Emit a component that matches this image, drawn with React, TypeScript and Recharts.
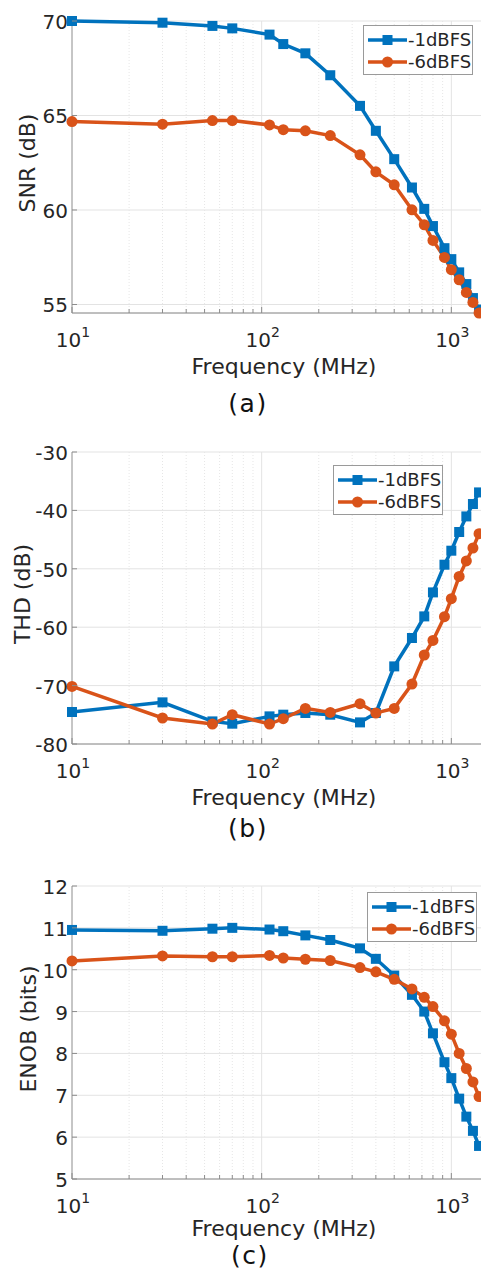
import React from "react";
import { LineChart, Line, XAxis, YAxis, CartesianGrid, ReferenceLine, Legend } from "recharts";

// sampled input frequencies (MHz), shared by all three panels
const freqMHz = [10, 30, 55, 70, 110, 130, 170, 230, 330, 400, 500, 620, 720, 800, 920, 1000, 1100, 1200, 1300, 1400];

const seriesNames = ["-1dBFS", "-6dBFS"];

// (a) SNR in dB
const snr1dB = [70.0, 69.91, 69.74, 69.61, 69.28, 68.78, 68.29, 67.13, 65.51, 64.19, 62.69, 61.19, 60.06, 59.15, 57.98, 57.4, 56.7, 56.08, 55.34, 54.73];
const snr6dB = [64.68, 64.54, 64.73, 64.73, 64.5, 64.25, 64.19, 63.94, 62.92, 62.02, 61.33, 60.01, 59.22, 58.39, 57.49, 56.84, 56.31, 55.64, 55.11, 54.55];

// (b) THD in dB
const thd1dB = [-74.52, -72.87, -76.13, -76.52, -75.27, -74.98, -74.69, -74.98, -76.3, -74.69, -66.71, -61.85, -58.15, -54.04, -49.3, -46.9, -43.7, -41.03, -38.91, -36.92];
const thd6dB = [-70.14, -75.55, -76.58, -74.98, -76.58, -75.67, -73.9, -74.59, -73.1, -74.69, -73.9, -69.73, -64.76, -62.26, -58.2, -55.12, -51.3, -48.66, -46.44, -43.99];

// (c) ENOB in bits
const enob1dB = [10.95, 10.93, 10.98, 11.0, 10.96, 10.92, 10.82, 10.71, 10.51, 10.26, 9.86, 9.4, 9.0, 8.48, 7.79, 7.41, 6.92, 6.49, 6.15, 5.79];
const enob6dB = [10.21, 10.33, 10.31, 10.31, 10.34, 10.28, 10.25, 10.22, 10.05, 9.95, 9.77, 9.54, 9.34, 9.12, 8.78, 8.46, 8.0, 7.64, 7.32, 6.97];

const decadeTicks = [10, 100, 1000];
const minorTicks = [20, 30, 40, 50, 60, 70, 80, 90, 200, 300, 400, 500, 600, 700, 800, 900];
const snrTicks = [55, 60, 65, 70];
const thdTicks = [-80, -70, -60, -50, -40, -30];
const enobTicks = [5, 6, 7, 8, 9, 10, 11, 12];

const X_MAX = 1720; // figure is cropped on the right
const xTicks = [...decadeTicks, ...minorTicks].sort((a, b) => a - b);

const BLUE = "#0072BD";
const ORANGE = "#D95319";
const FONT = "'DejaVu Sans', Verdana, sans-serif";
const TXT = "#262626";
const AXIS = "#8c8c8c";
const LINE_W = 3.5;

function BottomTick(props: any) {
  const { x, y, payload } = props;
  const v = payload.value;
  const major = decadeTicks.includes(v);
  return (
    <g>
      <line x1={x} x2={x} y1={y} y2={y - (major ? 6 : 4)} stroke={AXIS} />
      {major && (
        <text x={x + 1} y={y + 34} textAnchor="middle" fontSize={20} fill={TXT} fontFamily={FONT}>
          10
          <tspan fontSize={14} dy={-10}>
            {Math.round(Math.log10(v))}
          </tspan>
        </text>
      )}
    </g>
  );
}

function TopTick(props: any) {
  const { x, y, payload } = props;
  const major = decadeTicks.includes(payload.value);
  return <line x1={x} x2={x} y1={y} y2={y + (major ? 6 : 4)} stroke={AXIS} />;
}

function LeftTick(props: any) {
  const { x, y, payload } = props;
  return (
    <g>
      <line x1={x} x2={x + 5} y1={y} y2={y} stroke={AXIS} />
      <text x={x - 4} y={y} dy={8} textAnchor="end" fontSize={20} fill={TXT} fontFamily={FONT}>
        {payload.value}
      </text>
    </g>
  );
}

const squareDot = (p: any) => (
  <rect key={`sq-${p.index}`} x={p.cx - 5} y={p.cy - 5} width={10} height={10} fill={BLUE} />
);
const circleDot = (p: any) => <circle key={`ci-${p.index}`} cx={p.cx} cy={p.cy} r={5.5} fill={ORANGE} />;

function LegendBox(props: any) {
  const items = props.payload || [];
  return (
    <div
      style={{
        width: 110,
        height: 50,
        boxSizing: "border-box",
        border: "1px solid #9a9a9a",
        background: "#fff",
        paddingTop: 3,
        fontFamily: FONT,
        fontSize: 18,
        color: TXT,
      }}
    >
      {items.map((item: any, i: number) => (
        <div key={i} style={{ display: "flex", alignItems: "center", height: 22 }}>
          <svg width={44} height={22} style={{ display: "block" }}>
            <line x1={4} x2={43} y1={11} y2={11} stroke={item.color} strokeWidth={LINE_W} />
            {item.dataKey === "a" ? (
              <rect x={18.5} y={6} width={10} height={10} fill={BLUE} />
            ) : (
              <circle cx={23.5} cy={11} r={5.5} fill={ORANGE} />
            )}
          </svg>
          <span style={{ lineHeight: "22px" }}>{item.value}</span>
        </div>
      ))}
    </div>
  );
}

type PanelProps = {
  s1: number[];
  s6: number[];
  yDomain: [number, number];
  yTicks: number[];
  yLabel: string;
  caption: string;
  top: number;
  plotH: number;
  yLabelX: number;
  captionX: number;
  captionTop: number;
  legendLeft: number;
  legendTop: number;
  xLabelOffset: number;
};

function Panel(p: PanelProps) {
  const rows = freqMHz.map((f, i) => ({ f, a: p.s1[i], b: p.s6[i] }));
  const marginTop = 21;
  const axisH = 40;
  const marginBottom = 25;
  const chartH = marginTop + p.plotH + axisH + marginBottom;
  const plotCenter = p.top + marginTop + p.plotH / 2 - 4;
  return (
    <>
      <div style={{ position: "absolute", left: 0, top: p.top }}>
        <LineChart
          width={500}
          height={chartH}
          data={rows}
          margin={{ top: marginTop, right: 4, bottom: marginBottom, left: 0 }}
        >
          <CartesianGrid vertical={false} stroke="#e3e3e3" />
          {minorTicks.map((t) => (
            <ReferenceLine key={`m${t}`} x={t} stroke="#e6e6e6" strokeDasharray="1 2" />
          ))}
          {decadeTicks.slice(1).map((t) => (
            <ReferenceLine key={`d${t}`} x={t} stroke="#e3e3e3" />
          ))}
          <XAxis
            dataKey="f"
            type="number"
            scale="log"
            domain={[10, X_MAX]}
            ticks={xTicks}
            interval={0}
            tick={BottomTick}
            tickSize={0}
            tickMargin={0}
            tickLine={false}
            axisLine={{ stroke: AXIS }}
            height={axisH}
            label={{
              value: "Frequency (MHz)",
              position: "bottom",
              offset: p.xLabelOffset,
              fontSize: 22,
              fill: TXT,
              fontFamily: FONT,
            }}
          />
          <XAxis
            xAxisId="top"
            orientation="top"
            dataKey="f"
            type="number"
            scale="log"
            domain={[10, X_MAX]}
            ticks={xTicks}
            interval={0}
            tick={TopTick}
            tickSize={0}
            tickMargin={0}
            tickLine={false}
            axisLine={{ stroke: "#a8a8a8" }}
            height={0}
          />
          <YAxis
            type="number"
            domain={p.yDomain}
            ticks={p.yTicks}
            interval={0}
            tick={LeftTick}
            tickSize={0}
            tickMargin={0}
            tickLine={false}
            axisLine={{ stroke: AXIS }}
            width={72}
          />
          <Legend
            layout="vertical"
            align="center"
            verticalAlign="middle"
            content={LegendBox}
            wrapperStyle={{ left: p.legendLeft, top: p.legendTop, width: 110, height: 50 }}
          />
          <Line
            type="linear"
            dataKey="a"
            name={seriesNames[0]}
            stroke={BLUE}
            strokeWidth={LINE_W}
            dot={squareDot}
            activeDot={false}
            isAnimationActive={false}
          />
          <Line
            type="linear"
            dataKey="b"
            name={seriesNames[1]}
            stroke={ORANGE}
            strokeWidth={LINE_W}
            dot={circleDot}
            activeDot={false}
            isAnimationActive={false}
          />
        </LineChart>
      </div>
      <div
        style={{
          position: "absolute",
          left: p.yLabelX,
          top: plotCenter,
          transform: "translate(-50%, -50%) rotate(-90deg)",
          fontFamily: FONT,
          fontSize: 22,
          color: TXT,
          whiteSpace: "nowrap",
        }}
      >
        {p.yLabel}
      </div>
      <div
        style={{
          position: "absolute",
          left: p.captionX,
          top: p.captionTop,
          transform: "translateX(-50%)",
          fontFamily: FONT,
          fontSize: 25,
          letterSpacing: 1.5,
          color: "#111",
          whiteSpace: "nowrap",
          lineHeight: "28px",
        }}
      >
        {p.caption}
      </div>
    </>
  );
}

export default function App() {
  return (
    <div
      style={{
        position: "absolute",
        left: 0,
        top: 0,
        width: 481,
        height: 1279,
        overflow: "hidden",
        background: "#fff",
      }}
    >
      <Panel
        s1={snr1dB}
        s6={snr6dB}
        yDomain={[54.55, 70]}
        yTicks={snrTicks}
        yLabel="SNR (dB)"
        caption="(a)"
        top={0}
        plotH={292}
        yLabelX={27}
        captionX={248}
        captionTop={390}
        legendLeft={363}
        legendTop={25}
        xLabelOffset={5}
      />
      <Panel
        s1={thd1dB}
        s6={thd6dB}
        yDomain={[-80, -30]}
        yTicks={thdTicks}
        yLabel="THD (dB)"
        caption="(b)"
        top={431}
        plotH={292}
        yLabelX={22}
        captionX={248}
        captionTop={815}
        legendLeft={333}
        legendTop={34}
        xLabelOffset={5}
      />
      <Panel
        s1={enob1dB}
        s6={enob6dB}
        yDomain={[5, 12]}
        yTicks={enobTicks}
        yLabel="ENOB (bits)"
        caption="(c)"
        top={865}
        plotH={293}
        yLabelX={28}
        captionX={250}
        captionTop={1242}
        legendLeft={367}
        legendTop={27}
        xLabelOffset={1}
      />
    </div>
  );
}
